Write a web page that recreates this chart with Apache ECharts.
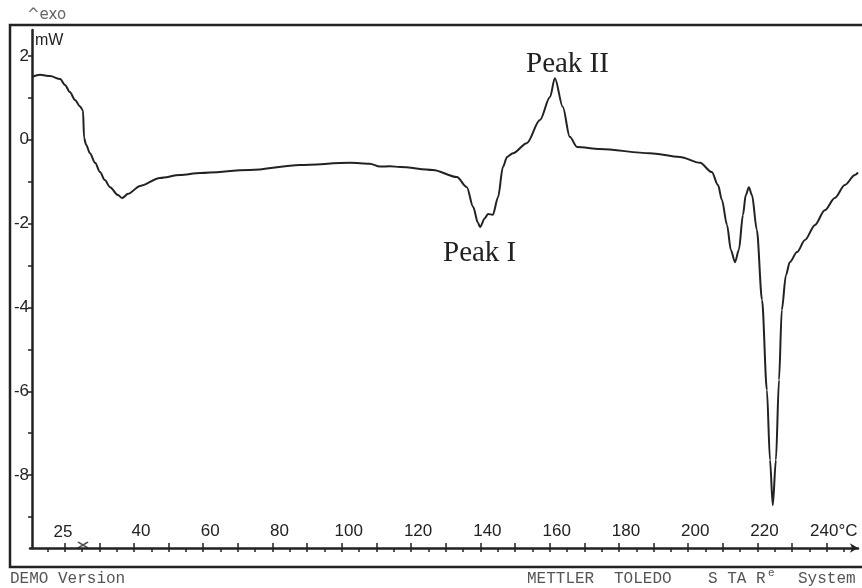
<!DOCTYPE html>
<html>
<head>
<meta charset="utf-8">
<script src="https://cdn.jsdelivr.net/npm/echarts@6/dist/echarts.min.js"></script>
<style>
  html, body { margin: 0; padding: 0; background: #fff; }
  #chart { width: 862px; height: 588px; }
</style>
</head>
<body>
<div id="chart"></div>
<script>
// DSC curve (°C, mW)
const temperature = [
  10.6, 12.9, 15.8, 18.7, 20.1, 21.5, 23.0, 24.4, 25.3, 25.6,
  26.2, 27.3, 28.8, 30.2, 31.6, 33.1, 35.4, 36.6, 38.3, 41.8,
  47.5, 53.3, 59.1, 73.5, 87.9, 102.4, 108.1, 111.0, 113.9, 116.8,
  126.3, 133.2, 136.1, 137.9, 139.3, 139.9, 141.3, 142.2, 143.6, 145.1,
  146.5, 147.7, 149.4, 153.4, 157.2, 160.1, 161.5, 163.8, 165.8, 167.9,
  174.5, 188.9, 197.6, 203.4, 206.8, 208.6, 209.7, 211.2, 212.3, 213.5,
  214.6, 215.8, 216.6, 217.5, 218.4, 219.8, 221.3, 222.7, 223.6, 224.4,
  225.3, 226.2, 227.0, 228.2, 229.3, 231.4, 233.7, 236.6, 239.4, 242.3,
  245.2, 248.1, 249.0
]
const heatFlow = [
  1.50, 1.55, 1.52, 1.45, 1.31, 1.14, 0.95, 0.80, 0.70, 0.05,
  -0.12, -0.32, -0.55, -0.77, -0.96, -1.13, -1.32, -1.39, -1.29, -1.10,
  -0.91, -0.84, -0.79, -0.72, -0.60, -0.55, -0.57, -0.64, -0.63, -0.65,
  -0.72, -0.89, -1.13, -1.60, -1.98, -2.08, -1.87, -1.77, -1.79, -1.37,
  -0.65, -0.41, -0.32, -0.08, 0.47, 1.02, 1.47, 0.78, 0.07, -0.17,
  -0.22, -0.32, -0.41, -0.55, -0.77, -1.08, -1.43, -2.03, -2.63, -2.92,
  -2.63, -1.79, -1.32, -1.13, -1.32, -2.15, -3.82, -5.97, -7.64, -8.72,
  -7.64, -5.73, -4.06, -3.23, -2.92, -2.68, -2.39, -2.03, -1.68, -1.39,
  -1.08, -0.84, -0.78
]

const yTickValues = [-9, -8, -7, -6, -5, -4, -3, -2, -1, 0, 1, 2]
const yTickLabels = [-8, -6, -4, -2, 0, 2]
const xTickLabels = [40, 60, 80, 100, 120, 140, 160, 180, 200, 220, 240]
const xMajorTicks = [20, 30, 40, 50, 60, 70, 80, 90, 100, 110, 120, 130, 140, 150, 160, 170, 180, 190, 200, 210, 220, 230, 240]
const xMinorTicks = [15, 20, 25, 30, 35, 40, 45, 50, 55, 60, 65, 70, 75, 80, 85, 90, 95, 100, 105, 110, 115, 120, 125, 130, 135, 140, 145, 150, 155, 160, 165, 170, 175, 180, 185, 190, 195, 200, 205, 210, 215, 220, 225, 230, 235, 240, 245]
const startMark = [25.3]
const peakLabels = ['Peak I', 'Peak II']

const ink = '#222'
const grey = '#555'
const chart = echarts.init(document.getElementById('chart'))

chart.setOption({
  animation: false,
  backgroundColor: '#fff',
  grid: { left: 30, right: 4, top: 30, bottom: 40 },
  xAxis: [{
    type: 'value',
    min: 10,
    max: 249,
    position: 'bottom',
    splitLine: { show: false },
    axisLine: { onZero: false, lineStyle: { color: ink, width: 2.5 }, symbol: ['none', 'arrow'], symbolSize: [7, 8] },
    axisTick: { inside: true, length: 5, lineStyle: { color: ink, width: 1.5 }, customValues: xMajorTicks },
    axisLabel: {
      inside: true,
      margin: 8,
      color: ink,
      fontSize: 17,
      fontFamily: 'Liberation Sans',
      padding: [0, 0, 0, 14],
      customValues: xTickLabels,
      formatter: v => v === 240 ? '240°C' : String(v)
    }
  }, {
    type: 'value',
    min: 10,
    max: 249,
    position: 'bottom',
    splitLine: { show: false },
    axisLine: { show: false, onZero: false },
    axisTick: { inside: false, length: 4, lineStyle: { color: ink, width: 1.5 }, customValues: xMinorTicks },
    axisLabel: { show: false }
  }],
  yAxis: {
    type: 'value',
    min: -9.74,
    max: 2.62,
    offset: -2,
    splitLine: { show: false },
    axisLine: { show: true, onZero: false, lineStyle: { color: ink, width: 2.5 } },
    axisTick: { show: true, length: 4, lineStyle: { color: ink, width: 1.5 }, customValues: yTickValues },
    axisLabel: {
      margin: 3,
      color: ink,
      fontSize: 17,
      fontFamily: 'Liberation Sans',
      customValues: yTickLabels
    }
  },
  series: [{
    type: 'line',
    data: temperature.map((t, i) => [t, heatFlow[i]]),
    showSymbol: false,
    smooth: 0.3,
    smoothMonotone: 'x',
    lineStyle: { color: ink, width: 2 }
  }, {
    type: 'scatter',
    data: startMark.map(t => [t, -9.74]),
    symbol: 'path://M0 0L10 6M10 0L0 6',
    symbolSize: [10, 6],
    symbolOffset: [0, -3],
    clip: false,
    itemStyle: { color: 'none', borderColor: ink, borderWidth: 1.5 }
  }],
  graphic: [
    { type: 'rect', shape: { x: 10, y: 25, width: 870, height: 542 }, style: { fill: 'none', stroke: ink, lineWidth: 2.5 }, silent: true },
    { type: 'text', x: 27, y: 15, style: { text: '^exo', fill: '#666', font: '15px "DejaVu Sans"', verticalAlign: 'middle' } },
    { type: 'text', x: 35, y: 41, style: { text: 'mW', fill: ink, font: '16px "Liberation Sans"', verticalAlign: 'middle' } },
    { type: 'text', x: 63, y: 532, style: { text: '25', fill: ink, font: '17px "Liberation Sans"', align: 'center', verticalAlign: 'middle' } },
    { type: 'text', x: 443, y: 253, style: { text: peakLabels[0], fill: ink, font: '29px "Liberation Serif"', verticalAlign: 'middle' } },
    { type: 'text', x: 526, y: 64, style: { text: peakLabels[1], fill: ink, font: '29px "Liberation Serif"', verticalAlign: 'middle' } },
    { type: 'text', x: 10, y: 579, style: { text: 'DEMO Version', fill: grey, font: '16px "Liberation Mono"', verticalAlign: 'middle' } },
    { type: 'text', x: 527, y: 579, style: { text: 'METTLER', fill: grey, font: '16px "Liberation Mono"', verticalAlign: 'middle' } },
    { type: 'text', x: 614, y: 579, style: { text: 'TOLEDO', fill: grey, font: '16px "Liberation Mono"', verticalAlign: 'middle' } },
    { type: 'text', x: 708, y: 579, style: { text: 'S TA R', fill: grey, font: '16px "Liberation Mono"', verticalAlign: 'middle' } },
    { type: 'text', x: 768, y: 573, style: { text: 'e', fill: grey, font: '11px "Liberation Mono"', verticalAlign: 'middle' } },
    { type: 'text', x: 798, y: 579, style: { text: 'System', fill: grey, font: '16px "Liberation Mono"', verticalAlign: 'middle' } }
  ]
})
</script>
</body>
</html>
